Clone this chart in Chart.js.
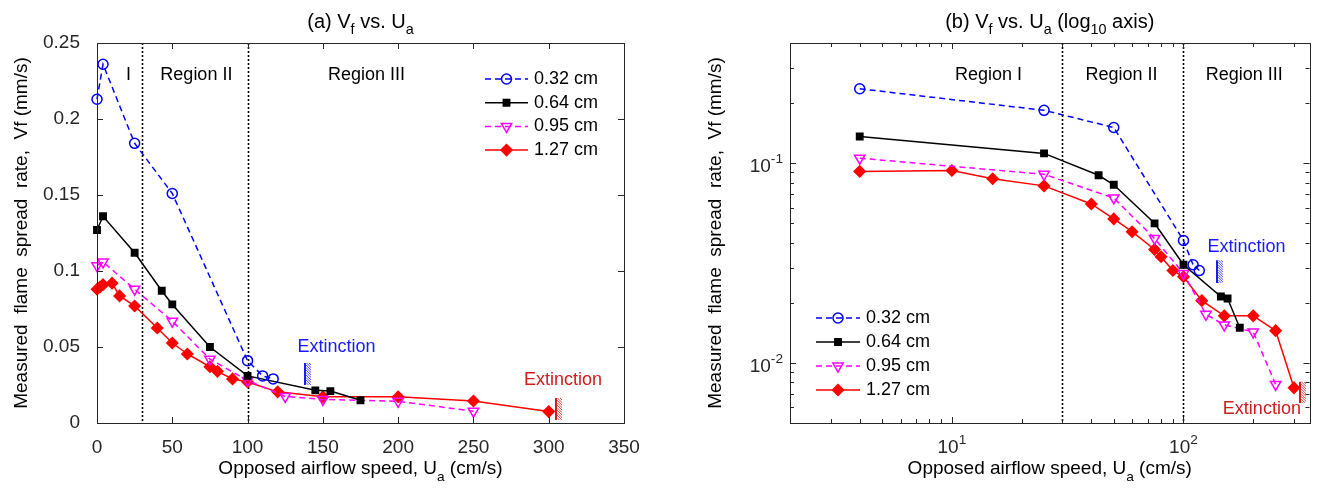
<!DOCTYPE html>
<html>
<head>
<meta charset="utf-8">
<script src="https://cdn.jsdelivr.net/npm/chart.js@4.4.1/dist/chart.umd.min.js"></script>
<style>
  html, body { margin: 0; padding: 0; background: #fff; }
  #wrap { position: relative; width: 1317px; height: 494px; overflow: hidden; }
  canvas { position: absolute; top: 0; }
  #chartA { left: 0; }
  #chartB { left: 660px; }
</style>
</head>
<body>
<div id="wrap">
  <canvas id="chartA" width="660" height="494"></canvas>
  <canvas id="chartB" width="657" height="494"></canvas>
</div>
<script>
// ---- data ----
const seriesLabels = ['0.32 cm', '0.64 cm', '0.95 cm', '1.27 cm'];

const ua032 = [0, 4, 25, 50, 100, 110, 117];
const vf032 = [0.213, 0.236, 0.184, 0.151, 0.041, 0.031, 0.029];

const ua064 = [0, 4, 25, 43, 50, 75, 100, 145, 155, 175];
const vf064 = [0.127, 0.136, 0.112, 0.087, 0.078, 0.050, 0.031, 0.0215, 0.021, 0.015];

const ua095 = [0, 4, 25, 50, 75, 100, 125, 150, 200, 250];
const vf095 = [0.1035, 0.106, 0.088, 0.067, 0.042, 0.028, 0.0175, 0.0155, 0.0143, 0.0078];

const ua127 = [0, 2, 4, 10, 15, 25, 40, 50, 60, 75, 80, 90, 100, 120, 150, 200, 250, 300];
const vf127 = [0.088, 0.0895, 0.091, 0.092, 0.0836, 0.077, 0.0625, 0.0526, 0.0454, 0.037, 0.034, 0.029, 0.027, 0.0205, 0.0172, 0.0172, 0.0145, 0.0075];

const regionBounds = [30, 100];

// tick values
const xTicksA = [0, 50, 100, 150, 200, 250, 300, 350];
const yTicksA = [0, 0.05, 0.1, 0.15, 0.2, 0.25];
const xTicksB = [2, 3, 4, 5, 6, 7, 8, 9, 10, 20, 30, 40, 50, 60, 70, 80, 90, 100, 200, 300];
const yTicksB = [0.005, 0.006, 0.007, 0.008, 0.009, 0.01, 0.02, 0.03, 0.04, 0.05, 0.06, 0.07, 0.08, 0.09, 0.1, 0.2, 0.3, 0.4];
const xMajorB = [10, 100];
const yMajorB = [0.01, 0.1];

const FONT = "'Liberation Sans', Arial, sans-serif";
const TXT = '#262626';
Chart.defaults.font.family = FONT;
Chart.defaults.color = TXT;

const seriesX = [ua032, ua064, ua095, ua127];
const seriesY = [vf032, vf064, vf095, vf127];
const seriesStyle = [
    { color: '#0000ff', dash: [6, 4], point: 'circle', r: 5, rot: 0, fill: false },
    { color: '#000000', dash: [], point: 'rect', r: 4.5, rot: 0, fill: true },
    { color: '#ff00ff', dash: [6, 4], point: 'triangle', r: 6, rot: 180, fill: false },
    { color: '#ff0000', dash: [], point: 'rectRot', r: 5.5, rot: 0, fill: true }
];

function makeDatasets(logScale) {
    return seriesLabels.map((label, i) => {
        const st = seriesStyle[i];
        const pts = seriesX[i].map((u, k) => ({ x: u, y: seriesY[i][k] }))
            .filter(p => !logScale || p.x > 2);
        return {
            label: label,
            data: pts,
            borderColor: st.color,
            borderWidth: 1.5,
            borderDash: st.dash,
            pointStyle: st.point,
            pointRadius: st.r,
            pointRotation: st.rot,
            pointBorderColor: st.color,
            pointBackgroundColor: st.fill ? st.color : 'rgba(0,0,0,0)',
            pointBorderWidth: 1.5,
            tension: 0,
            clip: false
        };
    });
}

// ---- text helpers (sub/superscripts) ----
function richWidth(ctx, parts, size) {
    let w = 0;
    for (const [t, m] of parts) {
        ctx.font = (m ? size * 0.72 : size) + 'px ' + FONT;
        w += ctx.measureText(t).width;
    }
    return w;
}
function drawRich(ctx, parts, x, y, size, align, color) {
    const w = richWidth(ctx, parts, size);
    let cx = align === 'center' ? x - w / 2 : align === 'right' ? x - w : x;
    ctx.textBaseline = 'middle';
    ctx.textAlign = 'left';
    ctx.fillStyle = color;
    for (const [t, m] of parts) {
        const s = m ? size * 0.72 : size;
        ctx.font = s + 'px ' + FONT;
        const dy = m === 1 ? size * 0.42 : m === 2 ? -size * 0.42 : 0;
        ctx.fillText(t, cx, y + dy);
        cx += ctx.measureText(t).width;
    }
}

function drawMarker(ctx, ds, x, y) {
    ctx.save();
    ctx.strokeStyle = ds.pointBorderColor;
    ctx.fillStyle = ds.pointBackgroundColor;
    ctx.lineWidth = ds.pointBorderWidth;
    ctx.setLineDash([]);
    Chart.helpers.drawPoint(ctx, {
        pointStyle: ds.pointStyle, radius: ds.pointRadius,
        rotation: ds.pointRotation, borderWidth: ds.pointBorderWidth
    }, x, y);
    ctx.restore();
}

const framePlugin = {
    id: 'frame',
    beforeDatasetsDraw(chart, args, o) {
        const ctx = chart.ctx, ca = chart.chartArea, xs = chart.scales.x;
        ctx.save();
        ctx.strokeStyle = '#000';
        ctx.lineWidth = 1.6;
        ctx.setLineDash([2, 2]);
        regionBounds.forEach(b => {
            const px = Math.round(xs.getPixelForValue(b)) + 0.5;
            ctx.beginPath();
            ctx.moveTo(px, ca.top);
            ctx.lineTo(px, ca.bottom);
            ctx.stroke();
        });
        ctx.restore();
    },
    afterDraw(chart, args, o) {
        const ctx = chart.ctx, ca = chart.chartArea;
        const xs = chart.scales.x, ys = chart.scales.y;
        ctx.save();
        // box
        ctx.strokeStyle = TXT;
        ctx.lineWidth = 1;
        ctx.strokeRect(Math.round(ca.left) + 0.5, Math.round(ca.top) + 0.5,
            Math.round(ca.right - ca.left), Math.round(ca.bottom - ca.top));
        // inward ticks on all four sides
        ctx.beginPath();
        xs.ticks.forEach(t => {
            const px = Math.round(xs.getPixelForValue(t.value)) + 0.5;
            const len = (!o.xMajor || o.xMajor.includes(t.value)) ? 6 : 4;
            ctx.moveTo(px, ca.bottom); ctx.lineTo(px, ca.bottom - len);
            ctx.moveTo(px, ca.top); ctx.lineTo(px, ca.top + len);
        });
        ys.ticks.forEach(t => {
            const py = Math.round(ys.getPixelForValue(t.value)) + 0.5;
            const len = (!o.yMajor || o.yMajor.includes(t.value)) ? 6 : 4;
            ctx.moveTo(ca.left, py); ctx.lineTo(ca.left + len, py);
            ctx.moveTo(ca.right, py); ctx.lineTo(ca.right - len, py);
        });
        ctx.stroke();

        // power-of-ten labels for log axes
        if (o.xMajor) {
            o.xMajor.forEach(v => {
                const e = Math.round(Math.log10(v));
                drawRich(ctx, [['10', 0], [String(e), 2]], xs.getPixelForValue(v), ca.bottom + 25, 19, 'center', TXT);
            });
        }
        if (o.yMajor) {
            o.yMajor.forEach(v => {
                const e = Math.round(Math.log10(v));
                drawRich(ctx, [['10', 0], [String(e), 2]], ca.left - 7, ys.getPixelForValue(v) + 4, 19, 'right', TXT);
            });
        }

        // region labels
        ctx.fillStyle = '#000';
        ctx.font = '18px ' + FONT;
        ctx.textAlign = 'center';
        ctx.textBaseline = 'middle';
        o.regions.forEach(r => {
            ctx.fillText(r.t, xs.getPixelForValue(r.x), ys.getPixelForValue(o.regionY));
        });

        // extinction marks
        o.extinction.forEach(e => {
            const hx = Math.round(xs.getPixelForValue(e.hx));
            const y1 = ys.getPixelForValue(e.hy1), y2 = ys.getPixelForValue(e.hy2);
            ctx.save();
            ctx.strokeStyle = e.color;
            ctx.lineWidth = 2;
            ctx.beginPath();
            ctx.moveTo(hx + 1, y1); ctx.lineTo(hx + 1, y2);
            ctx.stroke();
            ctx.beginPath();
            ctx.rect(hx + 2, y1, 5, y2 - y1);
            ctx.clip();
            ctx.lineWidth = 0.8;
            ctx.beginPath();
            for (let yy = y1 - 8; yy < y2 + 8; yy += 2.5) {
                ctx.moveTo(hx + 2, yy); ctx.lineTo(hx + 8, yy + 6);
            }
            ctx.stroke();
            ctx.restore();
            ctx.fillStyle = e.color;
            ctx.font = '18px ' + FONT;
            ctx.textAlign = 'center';
            ctx.textBaseline = 'middle';
            ctx.fillText('Extinction', xs.getPixelForValue(e.tx), ys.getPixelForValue(e.ty));
        });

        // legend
        const L = o.legend;
        chart.data.datasets.forEach((ds, i) => {
            const y = L.y + i * L.dy;
            ctx.save();
            ctx.strokeStyle = ds.borderColor;
            ctx.lineWidth = ds.borderWidth;
            ctx.setLineDash(ds.borderDash);
            ctx.beginPath();
            ctx.moveTo(L.x, y); ctx.lineTo(L.x + L.len, y);
            ctx.stroke();
            ctx.restore();
            drawMarker(ctx, ds, L.x + L.len / 2, y);
            ctx.fillStyle = '#000';
            ctx.font = '18px ' + FONT;
            ctx.textAlign = 'left';
            ctx.textBaseline = 'middle';
            ctx.fillText(ds.label, L.x + L.len + 6, y);
        });

        // titles
        const cx = (ca.left + ca.right) / 2;
        drawRich(ctx, o.title, cx, 22, 20, 'center', '#000');
        drawRich(ctx, [['Opposed airflow speed, U', 0], ['a', 1], [' (cm/s)', 0]], cx, 469, 19, 'center', '#000');
        ctx.save();
        ctx.translate(o.yTitleX, (ca.top + ca.bottom) / 2);
        ctx.rotate(-Math.PI / 2);
        drawRich(ctx, [['Measured  flame  spread  rate,  Vf (mm/s)', 0]], 0, 0, 19, 'center', '#000');
        ctx.restore();
        ctx.restore();
    }
};

// ---- (a) linear axes ----
new Chart(document.getElementById('chartA'), {
    type: 'line',
    data: { datasets: makeDatasets(false) },
    options: {
        responsive: false,
        animation: false,
        layout: { padding: { top: 43, right: 36, left: 0, bottom: 0 } },
        plugins: {
            legend: { display: false },
            tooltip: { enabled: false },
            frame: {
                title: [['(a) V', 0], ['f', 1], [' vs. U', 0], ['a', 1]],
                yTitleX: 22,
                regionY: 0.229,
                regions: [{ t: 'I', x: 21 }, { t: 'Region II', x: 66 }, { t: 'Region III', x: 179 }],
                extinction: [
                    { tx: 159, ty: 0.050, hx: 137.5, hy1: 0.0395, hy2: 0.025, color: '#1a1aff' },
                    { tx: 309.5, ty: 0.0283, hx: 304, hy1: 0.0164, hy2: 0.002, color: '#d01c1c' }
                ],
                legend: { x: 485, y: 79, dy: 23.7, len: 43 }
            }
        },
        scales: {
            x: {
                type: 'linear', min: 0, max: 350,
                grid: { display: false }, border: { display: false },
                afterBuildTicks: s => { s.ticks = xTicksA.map(v => ({ value: v })); },
                afterFit: s => { s.height = 71; },
                ticks: { font: { size: 19 }, color: TXT, padding: 5, maxRotation: 0, autoSkip: false,
                    callback: v => String(v) }
            },
            y: {
                type: 'linear', min: 0, max: 0.25,
                grid: { display: false }, border: { display: false },
                afterBuildTicks: s => { s.ticks = yTicksA.map(v => ({ value: v })); },
                afterFit: s => { s.width = 97; },
                ticks: { font: { size: 19 }, color: TXT, padding: 9, autoSkip: false,
                    callback: v => String(+Number(v).toFixed(2)) }
            }
        }
    },
    plugins: [framePlugin]
});

// ---- (b) log10 axes ----
new Chart(document.getElementById('chartB'), {
    type: 'line',
    data: { datasets: makeDatasets(true) },
    options: {
        responsive: false,
        animation: false,
        layout: { padding: { top: 43, right: 1, left: 0, bottom: 0 } },
        plugins: {
            legend: { display: false },
            tooltip: { enabled: false },
            frame: {
                title: [['(b) V', 0], ['f', 1], [' vs. U', 0], ['a', 1], [' (log', 0], ['10', 1], [' axis)', 0]],
                yTitleX: 56,
                xMajor: xMajorB,
                yMajor: yMajorB,
                regionY: 0.275,
                regions: [{ t: 'Region I', x: 14.4 }, { t: 'Region II', x: 54 }, { t: 'Region III', x: 183 }],
                extinction: [
                    { tx: 187, ty: 0.038, hx: 138, hy1: 0.0327, hy2: 0.0251, color: '#1a1aff' },
                    { tx: 218, ty: 0.00589, hx: 316, hy1: 0.00804, hy2: 0.0063, color: '#d01c1c' }
                ],
                legend: { x: 156, y: 318, dy: 24, len: 44 }
            }
        },
        scales: {
            x: {
                type: 'logarithmic', min: 2, max: 350,
                grid: { display: false }, border: { display: false },
                afterBuildTicks: s => { s.ticks = xTicksB.map(v => ({ value: v })); },
                afterFit: s => { s.height = 71; },
                ticks: { display: false }
            },
            y: {
                type: 'logarithmic', min: 0.005, max: 0.4,
                grid: { display: false }, border: { display: false },
                afterBuildTicks: s => { s.ticks = yTicksB.map(v => ({ value: v })); },
                afterFit: s => { s.width = 130; },
                ticks: { display: false }
            }
        }
    },
    plugins: [framePlugin]
});
</script>
</body>
</html>
